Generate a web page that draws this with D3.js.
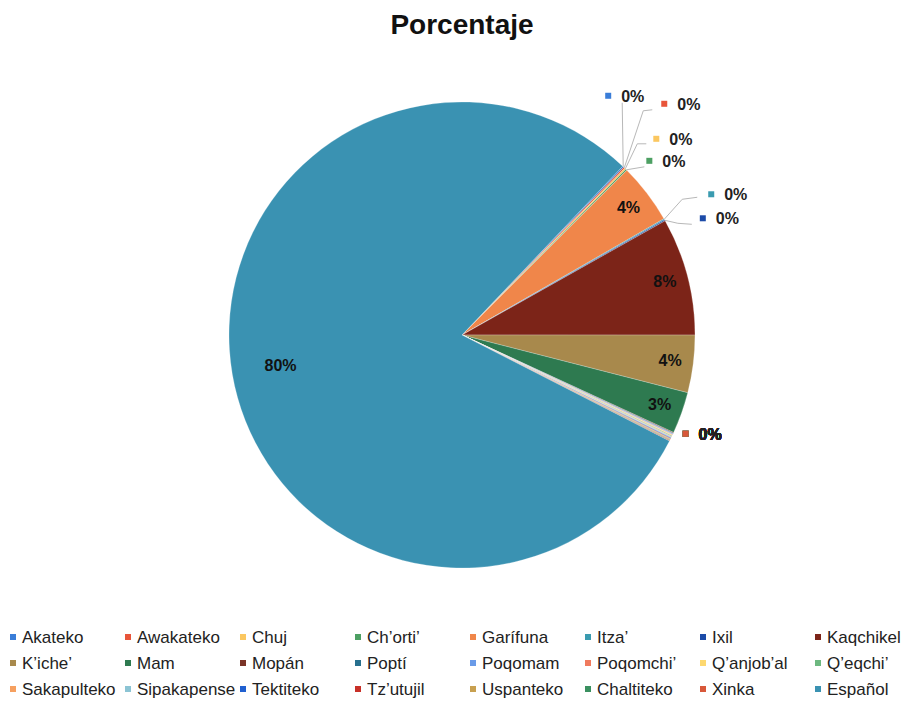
<!DOCTYPE html>
<html>
<head>
<meta charset="utf-8">
<script src="https://cdn.jsdelivr.net/npm/d3@7"></script>
<style>
  body { margin: 0; background: #fff; }
  text { font-family: "Liberation Sans", Arial, sans-serif; }
</style>
</head>
<body>
<div id="chart-area"></div>
<script>
// categories and values (percent of speakers)
const languages = ["Akateko", "Awakateko", "Chuj", "Ch\u2019orti\u2019", "Garífuna", "Itza\u2019", "Ixil", "Kaqchikel",
    "K\u2019iche\u2019", "Mam", "Mopán", "Poptí", "Poqomam", "Poqomchi\u2019", "Q\u2019anjob\u2019al", "Q\u2019eqchi\u2019",
    "Sakapulteko", "Sipakapense", "Tektiteko", "Tz\u2019utujil", "Uspanteko", "Chaltiteko", "Xinka", "Español"];
const percents = [0.1, 0.1, 0.1, 0.1, 4.2, 0.08, 0.08, 8.2,
    4.0, 2.9, 0.05, 0.05, 0.05, 0.05, 0.05, 0.05,
    0.05, 0.05, 0.05, 0.05, 0.05, 0.05, 0.05, 80];
const colors = ["#3a7dd8", "#e8553a", "#fbc760", "#4da063", "#f0864a", "#3a9bb0", "#1c4ba8", "#7c2418",
    "#a8894c", "#2e7a50", "#7a3428", "#27708e", "#6a9be8", "#f07a5e", "#fdd870", "#6db880",
    "#f6a060", "#8cc4d4", "#2060d0", "#c83028", "#c8a050", "#3a9060", "#d8583a", "#3a92b2"];

// labels drawn inside the slices, and the callouts with a key square
const insideLabels = ["Garífuna", "Kaqchikel", "K\u2019iche\u2019", "Mam", "Español"];
const callouts = {
    "Akateko":   { dx: -15, dy: -71, line: [[-1, -64]] },
    "Awakateko": { dx: 40, dy: -64, line: [[19, -57], [28, -58]] },
    "Chuj":      { dx: 31, dy: -30, line: [[12, -25], [21, -25]] },
    "Ch\u2019orti\u2019": { dx: 23, dy: -9, line: [[18, -3]] },
    "Itza\u2019":     { dx: 47, dy: -25, line: [[18, -20], [33, -22]] },
    "Ixil":      { dx: 38, dy: -2, line: [[13, 3], [27, 4]] }
};

const width = 903, height = 708;
const cx = 462, cy = 335, radius = 233;

const svg = d3.select("#chart-area")
    .append("svg")
        .attr("width", width)
        .attr("height", height);

svg.append("text")
    .attr("x", 462)
    .attr("y", 34)
    .attr("text-anchor", "middle")
    .attr("font-size", 28)
    .attr("font-weight", "bold")
    .attr("fill", "#111")
    .text("Porcentaje");

const data = languages.map((name, i) => ({ name: name, value: percents[i], color: colors[i] }));
const total = d3.sum(percents);

const pie = d3.pie()
    .value((d) => d.value)
    .sort(null)
    .startAngle(43.6 * Math.PI / 180)
    .endAngle(43.6 * Math.PI / 180 + 2 * Math.PI);

const arcs = pie(data);
const arc = d3.arc().innerRadius(0).outerRadius(radius);

const g = svg.append("g").attr("transform", `translate(${cx},${cy})`);

g.selectAll("path")
    .data(arcs)
    .enter()
    .append("path")
        .attr("d", arc)
        .attr("fill", (d) => d.data.color)
        .attr("stroke", "#fff")
        .attr("stroke-width", 0.4)
        .attr("stroke-opacity", 0.6);

const pct = (d) => Math.round(d.data.value / total * 100) + "%";

// inside labels
g.selectAll("text.inside")
    .data(arcs.filter((d) => insideLabels.includes(d.data.name)))
    .enter()
    .append("text")
        .attr("class", "inside")
        .attr("transform", (d) => {
            const r = d.data.name === "Español" ? radius * 0.79 : radius * 0.9;
            const a = (d.startAngle + d.endAngle) / 2;
            return `translate(${r * Math.sin(a)},${-r * Math.cos(a) + 5})`;
        })
        .attr("text-anchor", "middle")
        .attr("font-size", 16)
        .attr("font-weight", "bold")
        .attr("fill", "#111")
        .text(pct);

// zero-percent callouts
const midAngle = (d) => (d.startAngle + d.endAngle) / 2;
const small = arcs.filter((d) => !insideLabels.includes(d.data.name));
// slices without their own callout share one spot (their labels pile up, as in the original)
const rest = small.filter((d) => !callouts[d.data.name]);
const restAngle = d3.mean(rest, midAngle);

small.forEach((d) => {
    const a = callouts[d.data.name] ? midAngle(d) : restAngle;
    const ex = radius * Math.sin(a), ey = -radius * Math.cos(a);
    const c = callouts[d.data.name] || { dx: 14, dy: -3, line: [] };
    if (c.line.length) {
        const pts = [[ex, ey]].concat(c.line.map((p) => [ex + p[0], ey + p[1]]));
        g.append("path")
            .attr("d", d3.line()(pts))
            .attr("fill", "none")
            .attr("stroke", "#b8b8b8")
            .attr("stroke-width", 1);
    }
    const lx = ex + c.dx, ly = ey + c.dy;
    g.append("rect")
        .attr("x", lx - 3)
        .attr("y", ly - 3)
        .attr("width", 6)
        .attr("height", 6)
        .attr("fill", d.data.color);
    g.append("text")
        .attr("x", lx + 13)
        .attr("y", ly + 6)
        .attr("font-size", 16)
        .attr("font-weight", "bold")
        .attr("fill", "#222")
        .text(pct(d));
});

// legend: 8 columns, 3 rows
const legend = svg.append("g");
const colX = d3.scaleBand().domain(d3.range(8)).range([8, 928]);
const rowY = d3.scalePoint().domain([0, 1, 2]).range([637, 689]);

const items = legend.selectAll("g")
    .data(data)
    .enter()
    .append("g")
        .attr("transform", (d, i) => `translate(${colX(i % 8)},${rowY(Math.floor(i / 8))})`);

items.append("rect")
    .attr("x", 2)
    .attr("y", -3)
    .attr("width", 6)
    .attr("height", 6)
    .attr("fill", (d) => d.color);

items.append("text")
    .attr("x", 14)
    .attr("y", 6)
    .attr("font-size", 17)
    .attr("fill", "#222")
    .text((d) => d.name);
</script>
</body>
</html>
